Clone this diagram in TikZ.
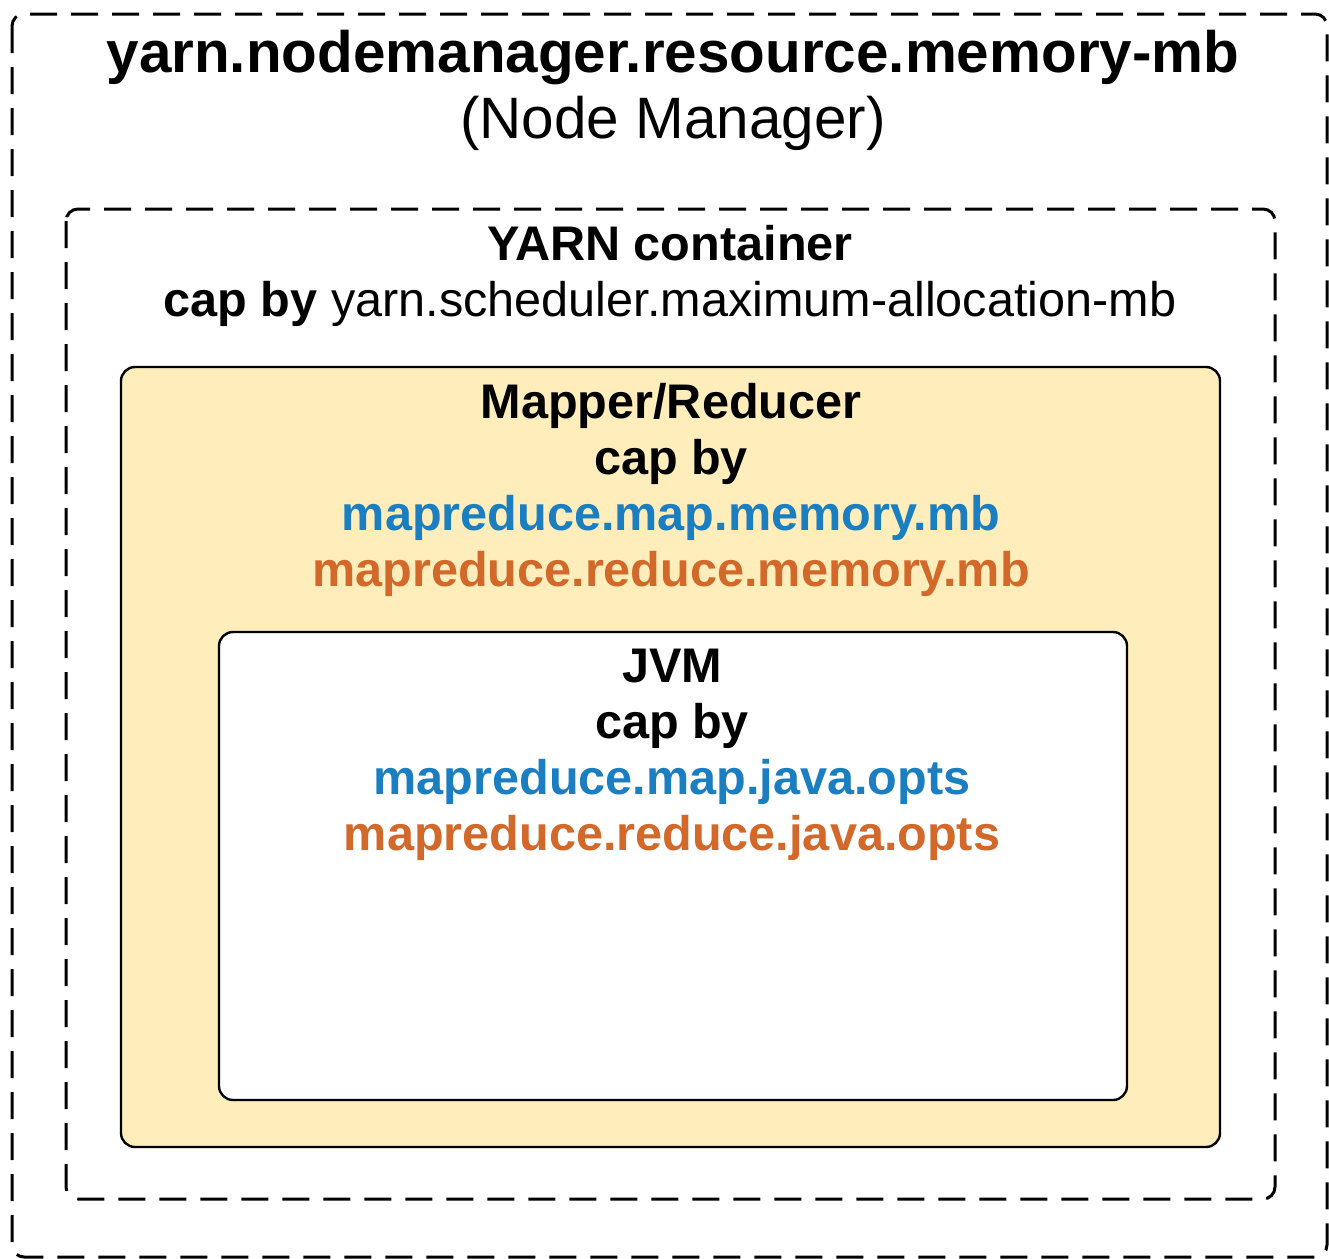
\documentclass[tikz,border=0pt]{standalone}
\usepackage{fontspec}
\setmainfont{Liberation Sans}
\definecolor{mapblue}{HTML}{1A7EC0}
\definecolor{reduceorange}{HTML}{D2692A}
\definecolor{mrfill}{HTML}{FFEEBB}
\tikzset{
	dashbox/.style={draw=black, line width=1.5pt, dash pattern=on 13.5pt off 7pt, rounded corners=6pt},
	solidbox/.style={draw=black, line width=1.2pt, rounded corners=7pt},
	boxtext/.style={anchor=north, inner sep=0pt, align=center, font=\fontsize{24.3}{28}\selectfont},
}
\begin{document}
\begin{tikzpicture}[x=0.5pt,y=-0.5pt]
	\useasboundingbox (0,0) rectangle (1329,1259);
	\draw[dashbox] (12,14) rectangle (1327,1257);
	\draw[dashbox] (66,209) rectangle (1275,1199);
	\draw[solidbox, fill=mrfill] (121,367) rectangle (1220,1147);
	\draw[solidbox, fill=white] (219,632) rectangle (1127,1100);
	\node[boxtext, font=\fontsize{29.2}{33}\selectfont] (nodemgr) at (673,30) {\textbf{yarn.nodemanager.resource.memory-mb}\\(Node Manager)};
	\node[boxtext] (container) at (670,225) {\textbf{YARN container}\\\textbf{cap by} yarn.scheduler.maximum-allocation-mb};
	\node[boxtext] (mapred) at (671,383) {\textbf{Mapper/Reducer}\\\textbf{cap by}\\\textcolor{mapblue}{\textbf{mapreduce.map.memory.mb}}\\\textcolor{reduceorange}{\textbf{mapreduce.reduce.memory.mb}}};
	\node[boxtext] (jvm) at (672,649) {\textbf{JVM}\\\textbf{cap by}\\\textcolor{mapblue}{\textbf{mapreduce.map.java.opts}}\\\textcolor{reduceorange}{\textbf{mapreduce.reduce.java.opts}}};
\end{tikzpicture}
\end{document}
